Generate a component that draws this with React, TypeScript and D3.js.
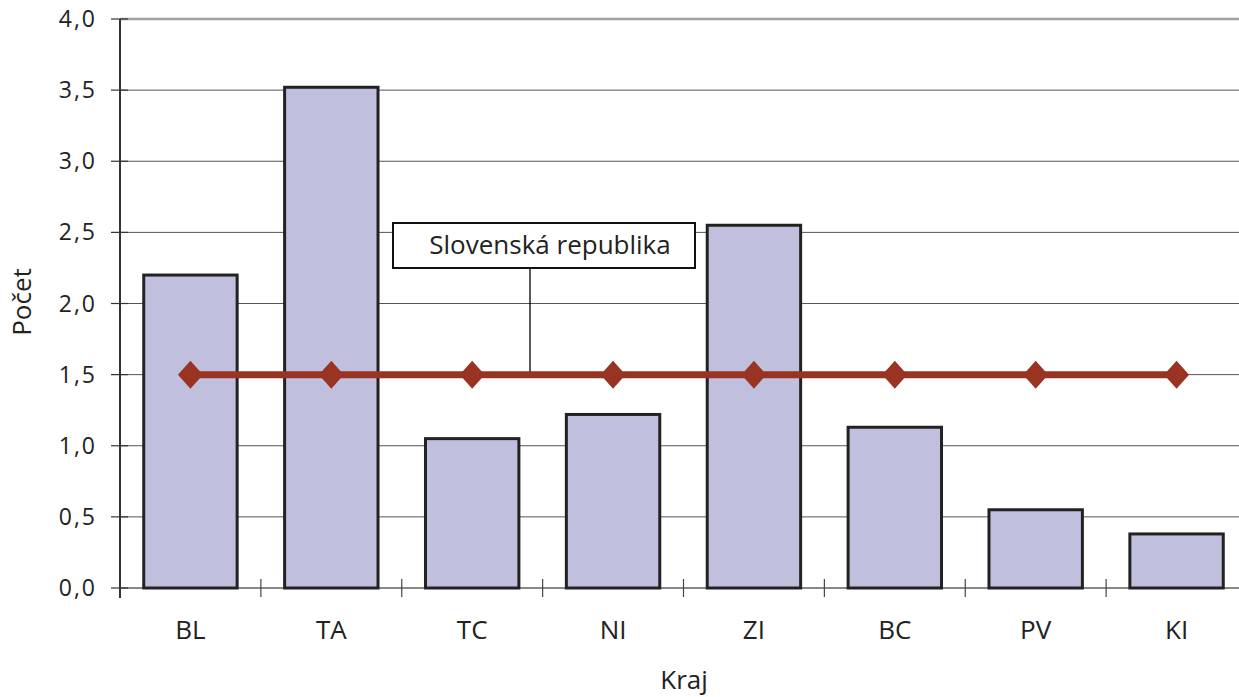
import React from "react";
import * as d3 from "d3";

const categories = ["BL", "TA", "TC", "NI", "ZI", "BC", "PV", "KI"];
const values = [2.2, 3.52, 1.05, 1.22, 2.55, 1.13, 0.55, 0.38];
const nationalValues = [1.5, 1.5, 1.5, 1.5, 1.5, 1.5, 1.5, 1.5];
const yTicks = [0, 0.5, 1, 1.5, 2, 2.5, 3, 3.5, 4];
const seriesLabel = "Slovenská republika";
const xTitle = "Kraj";
const yTitle = "Počet";

const W = 1239;
const H = 697;
const FONT = "'Open Sans', 'Noto Sans', sans-serif";

export default function App() {
  const x = d3.scaleBand<string>().domain(categories).range([120, 1247]).paddingInner(0.337).paddingOuter(0.1685);
  const y = d3.scaleLinear().domain([0, 4]).range([588, 19]);
  const step = x.step();
  const center = (c: string) => (x(c) as number) + x.bandwidth() / 2;
  const fmt = (v: number) => d3.format(".1f")(v).replace(".", ",");
  const line = d3.line<number>().x((_, i) => center(categories[i])).y((d) => y(d));
  const boundaries = d3.range(categories.length + 1).map((i) => 120 + i * step);

  return (
    <svg width={W} height={H} style={{ position: "absolute", left: 0, top: 0, background: "#fff" }} fontFamily={FONT}>
      {yTicks.map((t) => (
        <line key={"g" + t} x1={120} x2={W} y1={y(t)} y2={y(t)}
          stroke={t === 4 ? "#a0a0a0" : t === 0 ? "#888" : "#555"} strokeWidth={t === 4 ? 2.5 : t === 0 ? 2 : 1} />
      ))}
      {yTicks.map((t) => (
        <g key={"t" + t}>
          <line x1={111} x2={128} y1={y(t)} y2={y(t)} stroke="#333" strokeWidth={1.2} />
          <text x={97} y={y(t)} dy="0.35em" textAnchor="end" fontSize={23} fill="#222" letterSpacing={2}>{fmt(t)}</text>
        </g>
      ))}
      {boundaries.map((b, i) => (
        <line key={"b" + i} x1={b} x2={b} y1={579} y2={597} stroke="#444" strokeWidth={1.2} />
      ))}
      {categories.map((c, i) => (
        <rect key={c} x={x(c)} y={y(values[i])} width={x.bandwidth()} height={y(0) - y(values[i])}
          fill="#c0c0de" stroke="#222" strokeWidth={3} />
      ))}
      <line x1={120} x2={120} y1={19} y2={598} stroke="#333" strokeWidth={2} />
      {categories.map((c) => (
        <text key={"l" + c} x={center(c)} y={630} dy="0.35em" textAnchor="middle" fontSize={26} fill="#222">{c}</text>
      ))}
      <line x1={530} x2={530} y1={268} y2={378} stroke="#000" strokeWidth={1.3} />
      <path d={line(nationalValues) as string} fill="none" stroke="#993322" strokeWidth={7} />
      {categories.map((c, i) => {
        const cx = center(c);
        const cy = y(nationalValues[i]);
        return <path key={"d" + c} d={`M${cx},${cy - 14}L${cx + 12.5},${cy}L${cx},${cy + 14}L${cx - 12.5},${cy}Z`} fill="#993322" />;
      })}
      <rect x={393} y={223} width={302} height={45} fill="#fff" stroke="#111" strokeWidth={2} />
      <text x={550} y={245} dy="0.35em" textAnchor="middle" fontSize={26} fill="#222">{seriesLabel}</text>
      <text x={684} y={680} dy="0.35em" textAnchor="middle" fontSize={26} fill="#222">{xTitle}</text>
      <text transform={`translate(22,302) rotate(-90)`} dy="0.35em" textAnchor="middle" fontSize={26} fill="#222">{yTitle}</text>
    </svg>
  );
}
